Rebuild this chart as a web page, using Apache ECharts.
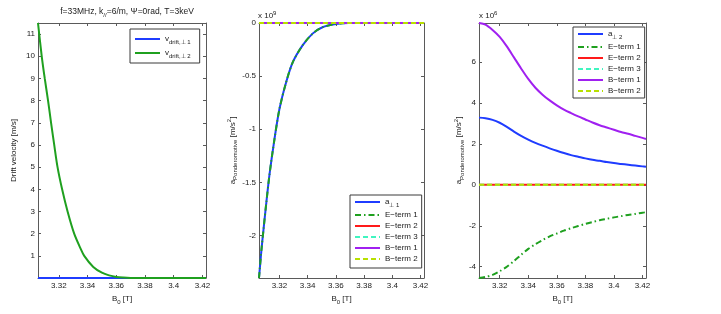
<!DOCTYPE html>
<html>
<head>
<meta charset="utf-8">
<script src="https://cdn.jsdelivr.net/npm/echarts@6/dist/echarts.min.js"></script>
<style>html,body{margin:0;padding:0;background:#fff}#c{width:721px;height:314px}</style>
</head>
<body>
<div id="c"></div>
<script>
// ---------- data ----------
const xTicks = [3.32, 3.34, 3.36, 3.38, 3.4, 3.42];
const p1YTicks = [1, 2, 3, 4, 5, 6, 7, 8, 9, 10, 11];
const p2YTicks = [-2, -1.5, -1, -0.5, 0];
const p3YTicks = [-4, -2, 0, 2, 4, 6];

// Panel 1: drift velocity [m/s]
const p1B = [3.3055, 3.3081, 3.3102, 3.3125, 3.3146, 3.3168, 3.3191, 3.3223, 3.3261, 3.3307, 3.335, 3.3377, 3.344, 3.35, 3.355, 3.36, 3.365, 3.37, 3.38, 3.40, 3.4225];
const vDrift1 = [0, 0, 0, 0, 0, 0, 0, 0, 0, 0, 0, 0, 0, 0, 0, 0, 0, 0, 0, 0, 0];
const vDrift2 = [11.5, 10, 9, 8, 7, 6, 5, 4, 3, 2, 1.35, 1, 0.5, 0.24, 0.12, 0.05, 0.02, 0.005, 0, 0, 0];

// Panel 2: a_perp1 (x 1e9)
const p2B = [3.3055, 3.3072, 3.3088, 3.3107, 3.3130, 3.3165, 3.3200, 3.3247, 3.3294, 3.3364, 3.3435, 3.3505, 3.3600, 3.3694, 3.38, 3.40, 3.4225];
const p2A1 = [-2.40, -2.14, -1.93, -1.69, -1.42, -1.09, -0.81, -0.56, -0.37, -0.21, -0.10, -0.04, -0.01, 0, 0, 0, 0];
const p2E1 = [-2.40, -2.14, -1.93, -1.69, -1.42, -1.09, -0.81, -0.56, -0.37, -0.21, -0.10, -0.04, -0.01, 0, 0, 0, 0];
const p2E2 = [0, 0, 0, 0, 0, 0, 0, 0, 0, 0, 0, 0, 0, 0, 0, 0, 0];
const p2E3 = [0, 0, 0, 0, 0, 0, 0, 0, 0, 0, 0, 0, 0, 0, 0, 0, 0];
const p2Bt1 = [0, 0, 0, 0, 0, 0, 0, 0, 0, 0, 0, 0, 0, 0, 0, 0, 0];
const p2Bt2 = [0, 0, 0, 0, 0, 0, 0, 0, 0, 0, 0, 0, 0, 0, 0, 0, 0];

// Panel 3: a_perp2 (x 1e6)
const p3B = [3.3055, 3.31, 3.315, 3.32, 3.325, 3.33, 3.335, 3.34, 3.345, 3.35, 3.355, 3.36, 3.365, 3.37, 3.375, 3.38, 3.385, 3.39, 3.395, 3.40, 3.405, 3.41, 3.415, 3.42, 3.4225];
const p3A2 = [3.28, 3.25, 3.17, 3.03, 2.83, 2.60, 2.39, 2.21, 2.05, 1.91, 1.78, 1.66, 1.55, 1.45, 1.37, 1.29, 1.22, 1.17, 1.11, 1.06, 1.02, 0.98, 0.94, 0.90, 0.88];
const p3E1 = [-4.55, -4.50, -4.40, -4.22, -4.00, -3.72, -3.42, -3.13, -2.90, -2.70, -2.52, -2.38, -2.24, -2.12, -2.01, -1.91, -1.82, -1.73, -1.66, -1.59, -1.53, -1.47, -1.42, -1.36, -1.34];
const p3E2 = [0, 0, 0, 0, 0, 0, 0, 0, 0, 0, 0, 0, 0, 0, 0, 0, 0, 0, 0, 0, 0, 0, 0, 0, 0];
const p3E3 = [0, 0, 0, 0, 0, 0, 0, 0, 0, 0, 0, 0, 0, 0, 0, 0, 0, 0, 0, 0, 0, 0, 0, 0, 0];
const p3Bt1 = [7.90, 7.82, 7.56, 7.22, 6.76, 6.22, 5.68, 5.17, 4.74, 4.40, 4.12, 3.88, 3.67, 3.50, 3.34, 3.19, 3.04, 2.91, 2.80, 2.69, 2.58, 2.49, 2.39, 2.29, 2.24];
const p3Bt2 = [0, 0, 0, 0, 0, 0, 0, 0, 0, 0, 0, 0, 0, 0, 0, 0, 0, 0, 0, 0, 0, 0, 0, 0, 0];

// ---------- styling ----------
const FONT = '"Liberation Sans", Arial, Helvetica, sans-serif';
const AX = '#5a5a5a';
const TXT = '#1a1a1a';
const XMIN = 3.3055, XMAX = 3.4225;
const C = { blue: '#1f3cff', green: '#1fa01f', red: '#ff1a1a', cyan: '#40f5c0', purple: '#a020f0', ygreen: '#b8e000' };
const RICH = {
  sub: { fontSize: 6, fontFamily: FONT, color: TXT, padding: [6, 0, 0, 0] },
  sup: { fontSize: 6, fontFamily: FONT, color: TXT, padding: [0, 0, 6, 0] }
};

const grids = [
  { left: 38, top: 23, width: 168, height: 255 },
  { left: 259, top: 23, width: 165, height: 255 },
  { left: 479, top: 23, width: 167, height: 255 }
];

function xAxisPair(g) {
  const base = {
    type: 'value', gridIndex: g, min: XMIN, max: XMAX,
    axisLine: { show: true, onZero: false, lineStyle: { color: AX, width: 1 } },
    axisTick: { show: true, inside: true, length: 3, customValues: xTicks, lineStyle: { color: AX } },
    splitLine: { show: false }
  };
  return [
    Object.assign({}, base, {
      position: 'bottom',
      axisLabel: { show: true, customValues: xTicks, fontSize: 8, color: TXT, fontFamily: FONT, margin: 4 },
      name: 'B{sub|0} [T]', nameLocation: 'middle', nameGap: 14,
      nameTextStyle: { fontSize: 8, color: TXT, fontFamily: FONT, rich: RICH }
    }),
    Object.assign({}, base, { position: 'top', axisLabel: { show: false } })
  ];
}
function yAxisPair(g, min, max, ticks, name, gap) {
  const base = {
    type: 'value', gridIndex: g, min: min, max: max,
    axisLine: { show: true, onZero: false, lineStyle: { color: AX, width: 1 } },
    axisTick: { show: true, inside: true, length: 3, customValues: ticks, lineStyle: { color: AX } },
    splitLine: { show: false }
  };
  return [
    Object.assign({}, base, {
      position: 'left',
      axisLabel: { show: true, customValues: ticks, fontSize: 8, color: TXT, fontFamily: FONT, margin: 3 },
      name: name, nameLocation: 'middle', nameGap: gap, nameRotate: 90,
      nameTextStyle: { fontSize: 8, color: TXT, fontFamily: FONT, rich: RICH }
    }),
    Object.assign({}, base, { position: 'right', axisLabel: { show: false } })
  ];
}

const pairs = (xs, ys) => xs.map((x, i) => [x, ys[i]]);
function line(name, xi, yi, xs, ys, color, type) {
  return {
    name: name, type: 'line', xAxisIndex: xi, yAxisIndex: yi,
    data: pairs(xs, ys), showSymbol: false, symbol: 'none',
    smooth: 0.3,
    lineStyle: { color: color, width: 2, type: type || 'solid' },
    itemStyle: { color: color },
    emphasis: { disabled: true }, silent: true, animation: false
  };
}
const DASH = [5, 3];
const DASHDOT = [6, 3, 1.5, 3];

const LABELS = {
  'vd1': 'v{sub|drift,⊥ 1}',
  'vd2': 'v{sub|drift,⊥ 2}',
  'a1': 'a{sub|⊥ 1}',
  'a2': 'a{sub|⊥ 2}',
  'E1': 'E−term 1', 'E2': 'E−term 2', 'E3': 'E−term 3',
  'B1': 'B−term 1', 'B2': 'B−term 2'
};
function legend(left, top, data, gap, pad) {
  return {
    left: left, top: top, orient: 'vertical', data: data,
    itemWidth: 25, itemHeight: 8, itemGap: gap,
    padding: pad,
    backgroundColor: '#fff', borderColor: '#3a3a3a', borderWidth: 1, borderRadius: 0,
    selectedMode: false,
    itemStyle: { opacity: 0 },
    formatter: n => LABELS[n] || n,
    textStyle: { fontSize: 8, color: TXT, fontFamily: FONT, rich: RICH }
  };
}

const option = {
  animation: false,
  backgroundColor: '#fff',
  title: {
    text: 'f=33MHz, k{sub|//}=6/m, Ψ=0rad, T=3keV',
    left: 122, top: 1, textAlign: 'center',
    textStyle: { fontSize: 8.5, fontWeight: 'normal', color: TXT, fontFamily: FONT, rich: RICH }
  },
  grid: grids,
  xAxis: [].concat(xAxisPair(0), xAxisPair(1), xAxisPair(2)),
  yAxis: [].concat(
    yAxisPair(0, 0, 11.5, p1YTicks, 'Drift velocity [m/s]', 20),
    yAxisPair(1, -2.4, 0, p2YTicks, 'a{sub|Ponderomotive} [m/s{sup|2}]', 10),
    yAxisPair(2, -4.55, 7.9, p3YTicks, 'a{sub|Ponderomotive} [m/s{sup|2}]', 14)
  ),
  legend: [
    legend(130, 29, ['vd1', 'vd2'], 4, [6, 9, 4, 4]),
    legend(350, 195, ['a1', 'E1', 'E2', 'E3', 'B1', 'B2'], 3, [3, 4, 5, 4]),
    legend(573, 27, ['a2', 'E1', 'E2', 'E3', 'B1', 'B2'], 3, [3, 4, 3, 4])
  ],
  graphic: [
    { type: 'text', left: 258, top: 10, silent: true,
      style: { text: 'x 10{sup|9}', fontSize: 8, fill: TXT, fontFamily: FONT, rich: RICH } },
    { type: 'text', left: 479, top: 10, silent: true,
      style: { text: 'x 10{sup|6}', fontSize: 8, fill: TXT, fontFamily: FONT, rich: RICH } }
  ],
  series: [
    line('vd1', 0, 0, p1B, vDrift1, C.blue),
    line('vd2', 0, 0, p1B, vDrift2, C.green),

    line('a1', 2, 2, p2B, p2A1, C.blue),
    line('E1', 2, 2, p2B, p2E1, C.green, DASHDOT),
    line('E2', 2, 2, p2B, p2E2, C.red),
    line('E3', 2, 2, p2B, p2E3, C.cyan, DASH),
    line('B1', 2, 2, p2B, p2Bt1, C.purple),
    line('B2', 2, 2, p2B, p2Bt2, C.ygreen, DASH),

    line('a2', 4, 4, p3B, p3A2, C.blue),
    line('E1', 4, 4, p3B, p3E1, C.green, DASHDOT),
    line('E2', 4, 4, p3B, p3E2, C.red),
    line('E3', 4, 4, p3B, p3E3, C.cyan, DASH),
    line('B1', 4, 4, p3B, p3Bt1, C.purple),
    line('B2', 4, 4, p3B, p3Bt2, C.ygreen, DASH)
  ]
};
const chart = echarts.init(document.getElementById('c'), null, { renderer: 'canvas' });
chart.setOption(option);
</script>
</body>
</html>
